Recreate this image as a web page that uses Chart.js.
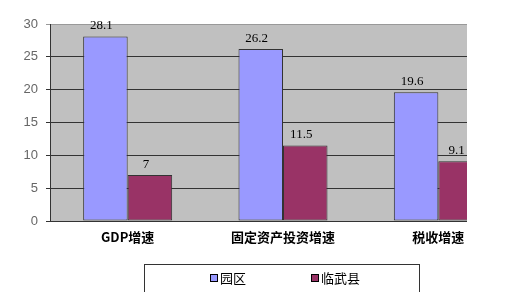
<!DOCTYPE html>
<html><head><meta charset="utf-8">
<script src="https://cdn.jsdelivr.net/npm/chart.js@4/dist/chart.umd.min.js"></script>
<style>
html,body{margin:0;padding:0;background:#fff;}
#wrap{position:relative;width:525px;height:292px;}
#legend{position:absolute;left:144px;top:264px;width:276px;height:40px;border:1px solid #333;border-bottom:none;box-sizing:border-box;font-family:"Noto Sans CJK SC",sans-serif;font-size:13px;color:#000;}
.it{position:absolute;top:4px;line-height:18px;}
.sw{display:inline-block;width:6px;height:6px;border:1px solid #000;margin-right:2px;vertical-align:middle;position:relative;top:-1px;}
</style></head>
<body>
<div id="wrap">
<canvas id="c" width="525" height="292"></canvas>
<div id="legend">
 <span class="it" style="left:65px"><span class="sw" style="background:#9999ff"></span>园区</span>
 <span class="it" style="left:166px"><span class="sw" style="background:#993366"></span>临武县</span>
</div>
</div>
<script>
const categories = ["GDP增速", "固定资产投资增速", "税收增速"];
const seriesNames = ["园区", "临武县"];
const parkValues = [28.1, 26.2, 19.6];
const linwuValues = [7, 11.5, 9.1];
const yTicks = [0, 5, 10, 15, 20, 25, 30];

const bgPlugin = {
  id: 'bg',
  beforeDraw(chart) {
    const {ctx, chartArea: a} = chart;
    ctx.save();
    ctx.fillStyle = '#c0c0c0';
    ctx.fillRect(a.left, a.top, a.right - a.left, a.bottom - a.top);
    ctx.restore();
  },
  afterDatasetsDraw(chart) {
    const ctx = chart.ctx;
    ctx.save();
    ctx.font = '13px "Liberation Serif", serif';
    ctx.fillStyle = '#000';
    ctx.textAlign = 'center';
    ctx.textBaseline = 'bottom';
    chart.data.datasets.forEach((ds, i) => {
      chart.getDatasetMeta(i).data.forEach((bar, j) => {
        ctx.fillText(String(ds.data[j]), bar.x - 4, bar.y - 4);
      });
    });
    // mask the clipped right part of the original picture
    const a = chart.chartArea;
    ctx.fillStyle = '#fff';
    ctx.fillRect(467, 0, 525 - 467, a.bottom + 2);
    ctx.restore();
  }
};

new Chart(document.getElementById('c'), {
  type: 'bar',
  data: {
    labels: categories,
    datasets: [
      {label: seriesNames[0], data: parkValues, backgroundColor: '#9999ff', borderColor: '#333', borderWidth: 1, borderSkipped: false},
      {label: seriesNames[1], data: linwuValues, backgroundColor: '#993366', borderColor: '#333', borderWidth: 1, borderSkipped: false}
    ]
  },
  options: {
    responsive: false,
    animation: false,
    layout: {padding: {top: 24, right: 9, bottom: 41, left: 0}},
    plugins: {legend: {display: false}, tooltip: {enabled: false}},
    datasets: {bar: {categoryPercentage: 0.573, barPercentage: 1}},
    scales: {
      x: {
        grid: {display: false, drawTicks: false},
        border: {display: true, color: '#333', width: 1},
        ticks: {padding: 8, color: '#000', font: {family: '"Noto Sans CJK SC", sans-serif', size: 13, weight: 'bold'}},
        afterFit(s) { s.height = 30; }
      },
      y: {
        min: 0, max: 30,
        afterBuildTicks(s) { s.ticks = yTicks.map(v => ({value: v})); },
        grid: {color: (c) => c.tick && c.tick.value === 30 ? '#999' : '#333', tickLength: 4, drawTicks: true},
        border: {display: true, color: '#333', width: 1},
        ticks: {padding: 8, color: '#666', font: {family: '"Liberation Sans", Arial, sans-serif', size: 13}},
        afterFit(s) { s.width = 50; }
      }
    }
  },
  plugins: [bgPlugin]
});
</script>
</body></html>
